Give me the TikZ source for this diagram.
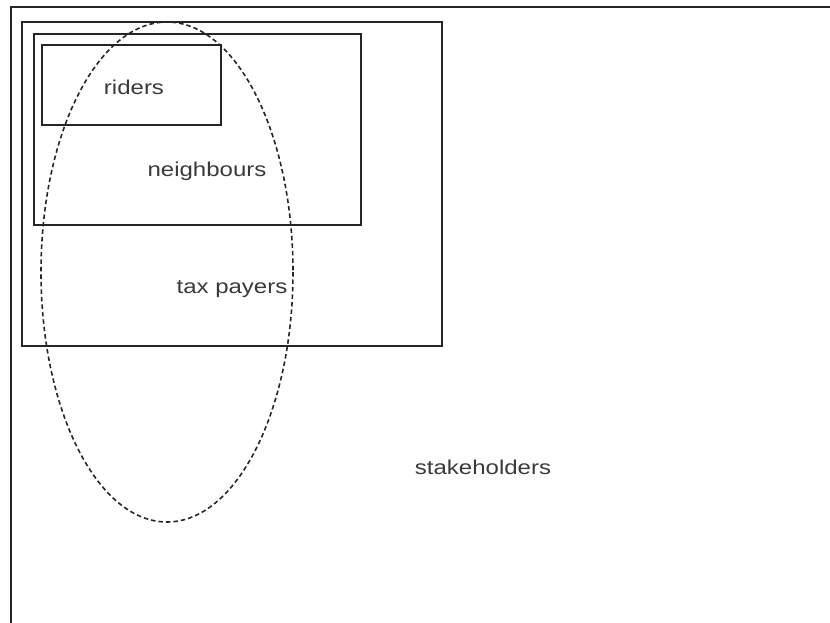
\documentclass[tikz,border=0pt]{standalone}
\usepackage{fontspec}
\setmainfont{Liberation Sans}
\definecolor{txt}{HTML}{3A3A3A}
\tikzset{
  box/.style={draw=black!85, line width=1.5pt},
  lbl/.style={text=txt, inner sep=0pt, font=\fontsize{20}{24}\selectfont},
}
\newcommand{\wide}[1]{\scalebox{1.2}[1]{#1}}
\begin{document}
\begin{tikzpicture}[x=1pt,y=-1pt]
\useasboundingbox (0,0) rectangle (830,623);
\clip (0,0) rectangle (830,623);
\draw[box] (11,7) rectangle (860,660);
\draw[box] (22,22) rectangle (442,346);
\draw[box] (34,34) rectangle (361,225);
\draw[box] (42,45) rectangle (221,125);
\draw[black!85, line width=1.6pt, dash pattern=on 4.5pt off 3pt] (167,272) ellipse [x radius=126, y radius=250];
\node[lbl] (riders) at (134,87) {\wide{riders}};
\node[lbl] (neigh) at (207,171) {\wide{neighbours}};
\node[lbl] (tax) at (232,289) {\wide{tax payers}};
\node[lbl] (stake) at (483,467) {\wide{stakeholders}};
\end{tikzpicture}
\end{document}
